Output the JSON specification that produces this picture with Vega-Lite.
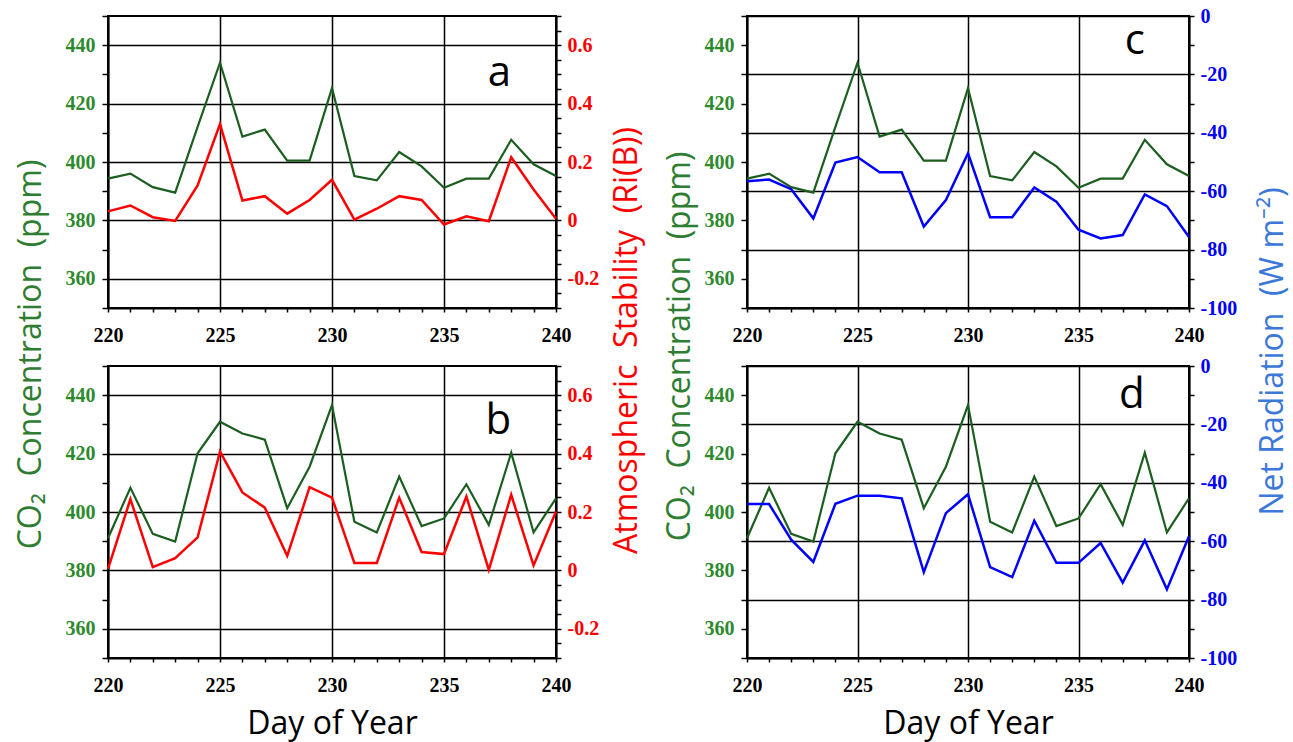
{
  "$schema": "https://vega.github.io/schema/vega-lite/v6.json",
  "padding": {"left": 13, "top": 5, "right": 6, "bottom": 4},
  "background": "white",
  "datasets": {
    "top": [
      {"day": 220, "co2": 394.3, "ri": 0.031, "rn": -56.6},
      {"day": 221, "co2": 396.0, "ri": 0.051, "rn": -56.0},
      {"day": 222, "co2": 391.4, "ri": 0.011, "rn": -59.3},
      {"day": 223, "co2": 389.5, "ri": -0.002, "rn": -69.3},
      {"day": 224, "co2": 412.0, "ri": 0.12, "rn": -50.2},
      {"day": 225, "co2": 434.0, "ri": 0.33, "rn": -48.3},
      {"day": 226, "co2": 408.7, "ri": 0.068, "rn": -53.5},
      {"day": 227, "co2": 411.1, "ri": 0.083, "rn": -53.5},
      {"day": 228, "co2": 400.5, "ri": 0.023, "rn": -72.1},
      {"day": 229, "co2": 400.5, "ri": 0.07, "rn": -63.0},
      {"day": 230, "co2": 425.3, "ri": 0.139, "rn": -47.0},
      {"day": 231, "co2": 395.2, "ri": 0.003, "rn": -68.9},
      {"day": 232, "co2": 393.7, "ri": 0.04, "rn": -68.9},
      {"day": 233, "co2": 403.4, "ri": 0.083, "rn": -58.7},
      {"day": 234, "co2": 398.5, "ri": 0.07, "rn": -63.6},
      {"day": 235, "co2": 391.2, "ri": -0.014, "rn": -73.2},
      {"day": 236, "co2": 394.3, "ri": 0.014, "rn": -76.2},
      {"day": 237, "co2": 394.3, "ri": -0.003, "rn": -75.0},
      {"day": 238, "co2": 407.6, "ri": 0.216, "rn": -61.1},
      {"day": 239, "co2": 399.2, "ri": 0.106, "rn": -65.1},
      {"day": 240, "co2": 395.2, "ri": 0.006, "rn": -75.7}
    ],
    "bottom": [
      {"day": 220, "co2": 391.0, "ri": 0.005, "rn": -47.3},
      {"day": 221, "co2": 408.3, "ri": 0.244, "rn": -47.3},
      {"day": 222, "co2": 392.5, "ri": 0.011, "rn": -59.5},
      {"day": 223, "co2": 389.9, "ri": 0.042, "rn": -67.1},
      {"day": 224, "co2": 420.1, "ri": 0.113, "rn": -47.2},
      {"day": 225, "co2": 430.9, "ri": 0.407, "rn": -44.4},
      {"day": 226, "co2": 426.9, "ri": 0.267, "rn": -44.4},
      {"day": 227, "co2": 424.8, "ri": 0.215, "rn": -45.3},
      {"day": 228, "co2": 401.3, "ri": 0.05, "rn": -70.6},
      {"day": 229, "co2": 415.5, "ri": 0.285, "rn": -50.4},
      {"day": 230, "co2": 436.6, "ri": 0.249, "rn": -43.9},
      {"day": 231, "co2": 396.7, "ri": 0.025, "rn": -68.9},
      {"day": 232, "co2": 393.0, "ri": 0.025, "rn": -72.3},
      {"day": 233, "co2": 412.1, "ri": 0.249, "rn": -53.0},
      {"day": 234, "co2": 395.2, "ri": 0.063, "rn": -67.4},
      {"day": 235, "co2": 397.8, "ri": 0.056, "rn": -67.4},
      {"day": 236, "co2": 409.5, "ri": 0.253, "rn": -60.6},
      {"day": 237, "co2": 395.6, "ri": 0.002, "rn": -74.2},
      {"day": 238, "co2": 420.3, "ri": 0.259, "rn": -59.7},
      {"day": 239, "co2": 393.0, "ri": 0.017, "rn": -76.5},
      {"day": 240, "co2": 404.7, "ri": 0.202, "rn": -58.3}
    ]
  },
  "columns": 2,
  "spacing": {"row": 58, "column": 191},
  "bounds": "flush",
  "concat": [
    {
      "width": 448, "height": 292,
      "data": {"name": "top"},
      "encoding": {
        "x": {"field": "day", "type": "quantitative", "scale": {"domain": [220, 240], "nice": false, "zero": false},
          "axis": {"values": [220,221,222,223,224,225,226,227,228,229,230,231,232,233,234,235,236,237,238,239,240],
            "labelExpr": "datum.value % 5 == 0 ? datum.label : ''", "grid": true,
            "gridOpacity": {"condition": {"test": "datum.value % 5 == 0", "value": 1}, "value": 0},
            "tickSize": 4, "labelPadding": 13, "title": null}}
      },
      "layer": [
        {"mark": {"type": "line", "color": "#1b5e20", "strokeWidth": 2.2},
          "encoding": {
            "y": {"field": "co2", "type": "quantitative", "scale": {"domain": [350, 450], "nice": false, "zero": false},
            "axis": {"orient": "left", "values": [350,360,370,380,390,400,410,420,430,440,450],
              "labelExpr": "datum.value % 20 == 0 ? datum.label : ''", "labelColor": "#2d8a2d", "tickSize": 6, "labelPadding": 7,
              "grid": true, "gridOpacity": {"condition": {"test": "datum.value % 20 == 0", "value": 1}, "value": 0},
              "title": "CO₂\u00a0\u00a0Concentration\u00a0\u00a0(ppm)", "titleColor": "#2e7d32",
              "titleX": -78, "titleY": 338, "titleAngle": 270, "titleAlign": "center", "titleBaseline": "middle"}}}},
        {"mark": {"type": "line", "color": "#ff0000", "strokeWidth": 2.5},
          "encoding": {
            "y": {"field": "ri", "type": "quantitative", "scale": {"domain": [-0.3, 0.7], "nice": false, "zero": false},
            "axis": {"orient": "right", "values": [-0.3,-0.25,-0.2,-0.15,-0.1,-0.05,0,0.05,0.1,0.15,0.2,0.25,0.3,0.35,0.4,0.45,0.5,0.55,0.6,0.65,0.7],
              "labelExpr": "abs(round(datum.value*100)) % 20 == 0 ? (round(datum.value*100) == 0 ? '0' : (datum.value < 0 ? '-' : '') + format(abs(datum.value), '.1f')) : ''",
              "labelColor": "#ff0000", "tickSize": 5, "labelPadding": 6, "grid": false,
              "title": "Atmospheric\u00a0\u00a0Stability\u00a0\u00a0(Ri(B))", "titleColor": "#ff0000",
              "titleX": 70, "titleY": 324, "titleAngle": 270, "titleAlign": "center", "titleBaseline": "middle"}}}},
        {"transform": [{"filter": "datum.day == 238"}],
          "mark": {"type": "text", "text": "a", "font": "Open Sans", "fontSize": 42, "align": "right", "baseline": "alphabetic", "color": "black"},
          "encoding": {"y": {"datum": 426, "type": "quantitative", "scale": {"domain": [350, 450], "nice": false}, "axis": null}}}
      ],
      "resolve": {"scale": {"y": "independent"}, "axis": {"y": "independent"}}
    },
    {
      "width": 442, "height": 292,
      "data": {"name": "top"},
      "encoding": {
        "x": {"field": "day", "type": "quantitative", "scale": {"domain": [220, 240], "nice": false, "zero": false},
          "axis": {"values": [220,221,222,223,224,225,226,227,228,229,230,231,232,233,234,235,236,237,238,239,240],
            "labelExpr": "datum.value % 5 == 0 ? datum.label : ''", "grid": true,
            "gridOpacity": {"condition": {"test": "datum.value % 5 == 0", "value": 1}, "value": 0},
            "tickSize": 4, "labelPadding": 13, "title": null}}
      },
      "layer": [
        {"mark": {"type": "line", "color": "#1b5e20", "strokeWidth": 2.2},
          "encoding": {
            "y": {"field": "co2", "type": "quantitative", "scale": {"domain": [350, 450], "nice": false, "zero": false},
            "axis": {"orient": "left", "values": [350,360,370,380,390,400,410,420,430,440,450],
              "labelExpr": "datum.value % 20 == 0 ? datum.label : ''", "labelColor": "#2d8a2d", "tickSize": 6, "labelPadding": 7,
              "grid": false,
              "title": "CO₂\u00a0\u00a0Concentration\u00a0\u00a0(ppm)", "titleColor": "#2e7d32",
              "titleX": -68, "titleY": 330, "titleAngle": 270, "titleAlign": "center", "titleBaseline": "middle"}}}},
        {"mark": {"type": "line", "color": "#0000ff", "strokeWidth": 2.5},
          "encoding": {
            "y": {"field": "rn", "type": "quantitative", "scale": {"domain": [-100, 0], "nice": false, "zero": false},
            "axis": {"orient": "right", "values": [-100,-90,-80,-70,-60,-50,-40,-30,-20,-10,0],
              "labelExpr": "datum.value % 20 == 0 ? (datum.value < 0 ? '-' + abs(datum.value) : '0') : ''",
              "labelColor": "#0000ff", "tickSize": 5, "labelPadding": 6,
              "grid": true, "gridOpacity": {"condition": {"test": "datum.value % 20 == 0", "value": 1}, "value": 0},
              "title": "Net Radiation\u00a0\u00a0(W m⁻²)", "titleColor": "#3c78d8",
              "titleX": 83, "titleY": 335, "titleAngle": 270, "titleAlign": "center", "titleBaseline": "middle"}}}},
        {"transform": [{"filter": "datum.day == 238"}],
          "mark": {"type": "text", "text": "c", "font": "Open Sans", "fontSize": 42, "align": "right", "baseline": "alphabetic", "color": "black"},
          "encoding": {"y": {"datum": 437, "type": "quantitative", "scale": {"domain": [350, 450], "nice": false}, "axis": null}}}
      ],
      "resolve": {"scale": {"y": "independent"}, "axis": {"y": "independent"}}
    },
    {
      "width": 448, "height": 292,
      "data": {"name": "bottom"},
      "encoding": {
        "x": {"field": "day", "type": "quantitative", "scale": {"domain": [220, 240], "nice": false, "zero": false},
          "axis": {"values": [220,221,222,223,224,225,226,227,228,229,230,231,232,233,234,235,236,237,238,239,240],
            "labelExpr": "datum.value % 5 == 0 ? datum.label : ''", "grid": true,
            "gridOpacity": {"condition": {"test": "datum.value % 5 == 0", "value": 1}, "value": 0},
            "tickSize": 4, "labelPadding": 13, "title": "Day of Year", "titleColor": "black",
            "titleY": 65, "titleBaseline": "middle"}}
      },
      "layer": [
        {"mark": {"type": "line", "color": "#1b5e20", "strokeWidth": 2.2},
          "encoding": {
            "y": {"field": "co2", "type": "quantitative", "scale": {"domain": [350, 450], "nice": false, "zero": false},
            "axis": {"orient": "left", "values": [350,360,370,380,390,400,410,420,430,440,450],
              "labelExpr": "datum.value % 20 == 0 ? datum.label : ''", "labelColor": "#2d8a2d", "tickSize": 6, "labelPadding": 7,
              "grid": true, "gridOpacity": {"condition": {"test": "datum.value % 20 == 0", "value": 1}, "value": 0},
              "title": null}}}},
        {"mark": {"type": "line", "color": "#ff0000", "strokeWidth": 2.5},
          "encoding": {
            "y": {"field": "ri", "type": "quantitative", "scale": {"domain": [-0.3, 0.7], "nice": false, "zero": false},
            "axis": {"orient": "right", "values": [-0.3,-0.25,-0.2,-0.15,-0.1,-0.05,0,0.05,0.1,0.15,0.2,0.25,0.3,0.35,0.4,0.45,0.5,0.55,0.6,0.65,0.7],
              "labelExpr": "abs(round(datum.value*100)) % 20 == 0 ? (round(datum.value*100) == 0 ? '0' : (datum.value < 0 ? '-' : '') + format(abs(datum.value), '.1f')) : ''",
              "labelColor": "#ff0000", "tickSize": 5, "labelPadding": 6, "grid": false, "title": null}}}},
        {"transform": [{"filter": "datum.day == 238"}],
          "mark": {"type": "text", "text": "b", "font": "Open Sans", "fontSize": 42, "align": "right", "baseline": "alphabetic", "color": "black"},
          "encoding": {"y": {"datum": 426.7, "type": "quantitative", "scale": {"domain": [350, 450], "nice": false}, "axis": null}}}
      ],
      "resolve": {"scale": {"y": "independent"}, "axis": {"y": "independent"}}
    },
    {
      "width": 442, "height": 292,
      "data": {"name": "bottom"},
      "encoding": {
        "x": {"field": "day", "type": "quantitative", "scale": {"domain": [220, 240], "nice": false, "zero": false},
          "axis": {"values": [220,221,222,223,224,225,226,227,228,229,230,231,232,233,234,235,236,237,238,239,240],
            "labelExpr": "datum.value % 5 == 0 ? datum.label : ''", "grid": true,
            "gridOpacity": {"condition": {"test": "datum.value % 5 == 0", "value": 1}, "value": 0},
            "tickSize": 4, "labelPadding": 13, "title": "Day of Year", "titleColor": "black",
            "titleY": 65, "titleBaseline": "middle"}}
      },
      "layer": [
        {"mark": {"type": "line", "color": "#1b5e20", "strokeWidth": 2.2},
          "encoding": {
            "y": {"field": "co2", "type": "quantitative", "scale": {"domain": [350, 450], "nice": false, "zero": false},
            "axis": {"orient": "left", "values": [350,360,370,380,390,400,410,420,430,440,450],
              "labelExpr": "datum.value % 20 == 0 ? datum.label : ''", "labelColor": "#2d8a2d", "tickSize": 6, "labelPadding": 7,
              "grid": false, "title": null}}}},
        {"mark": {"type": "line", "color": "#0000ff", "strokeWidth": 2.5},
          "encoding": {
            "y": {"field": "rn", "type": "quantitative", "scale": {"domain": [-100, 0], "nice": false, "zero": false},
            "axis": {"orient": "right", "values": [-100,-90,-80,-70,-60,-50,-40,-30,-20,-10,0],
              "labelExpr": "datum.value % 20 == 0 ? (datum.value < 0 ? '-' + abs(datum.value) : '0') : ''",
              "labelColor": "#0000ff", "tickSize": 5, "labelPadding": 6,
              "grid": true, "gridOpacity": {"condition": {"test": "datum.value % 20 == 0", "value": 1}, "value": 0},
              "title": null}}}},
        {"transform": [{"filter": "datum.day == 238"}],
          "mark": {"type": "text", "text": "d", "font": "Open Sans", "fontSize": 42, "align": "right", "baseline": "alphabetic", "color": "black"},
          "encoding": {"y": {"datum": 435.6, "type": "quantitative", "scale": {"domain": [350, 450], "nice": false}, "axis": null}}}
      ],
      "resolve": {"scale": {"y": "independent"}, "axis": {"y": "independent"}}
    }
  ],
  "config": {
    "view": {"stroke": "black", "strokeWidth": 2},
    "axis": {
      "domainColor": "black", "domainWidth": 2,
      "tickColor": "black", "tickWidth": 1.5,
      "gridColor": "black", "gridWidth": 1.5,
      "labelFont": "Liberation Sans Narrow", "labelFontWeight": "bold", "labelFontSize": 20,
      "labelOverlap": false, "labelFlush": false, "labelBound": false,
      "titleFont": "Open Sans", "titleFontWeight": "normal", "titleFontSize": 32
    }
  }
}
